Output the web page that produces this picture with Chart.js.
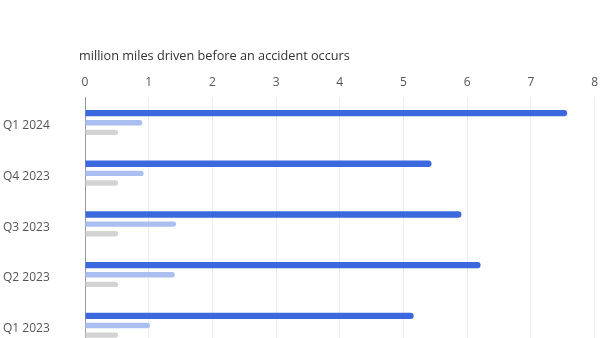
<!DOCTYPE html>
<html>
<head>
<meta charset="utf-8">
<script src="https://cdn.jsdelivr.net/npm/chart.js@4"></script>
<style>
    html, body { margin: 0; padding: 0; background: #fff; overflow: hidden; }
    #wrap { width: 600px; height: 361px; }
</style>
</head>
<body>
<div id="wrap"><canvas id="chart"></canvas></div>
<script>
// quarters, top to bottom
const quarters = ["Q1 2024", "Q4 2023", "Q3 2023", "Q2 2023", "Q1 2023"];
// million miles per accident
const withAutopilot = [7.57, 5.44, 5.91, 6.21, 5.16];
const withoutAutopilot = [0.90, 0.92, 1.43, 1.41, 1.02];
const usAverage = [0.52, 0.52, 0.52, 0.52, 0.52];
const xTicks = [0, 1, 2, 3, 4, 5, 6, 7, 8];
const axisCaption = "million miles driven before an accident occurs";

const fontFamily = "'Open Sans', Lato, sans-serif";

// caption above the top axis, starting a bit left of the plot
const captionPlugin = {
    id: "caption",
    afterDraw(chart) {
        const c = chart.ctx;
        c.save();
        c.font = "12.7px " + fontFamily;
        c.fillStyle = "#333";
        c.textBaseline = "middle";
        c.textAlign = "left";
        c.fillText(axisCaption, chart.chartArea.left - 6, 56);
        c.restore();
    }
};

document.addEventListener("DOMContentLoaded", function () {
    const ctx = document.getElementById("chart").getContext("2d");

    new Chart(ctx, {
        type: "bar",
        data: {
            labels: quarters,
            datasets: [
                { label: "Autopilot", data: withAutopilot, backgroundColor: "#3b69dd", barPercentage: 0.66 },
                { label: "No Autopilot", data: withoutAutopilot, backgroundColor: "#aabef0", barPercentage: 0.56 },
                { label: "US average", data: usAverage, backgroundColor: "#d3d3d3", barPercentage: 0.56 }
            ]
        },
        plugins: [captionPlugin],
        options: {
            indexAxis: "y",
            responsive: true,
            maintainAspectRatio: false,
            animation: false,
            layout: { padding: { top: 73, left: 3, right: 2, bottom: 3 } },
            datasets: {
                bar: { categoryPercentage: 0.57, borderRadius: 3 }
            },
            plugins: {
                legend: { display: false },
                tooltip: { enabled: false }
            },
            scales: {
                x: {
                    position: "top",
                    min: 0,
                    max: 8,
                    afterBuildTicks: function (scale) {
                        scale.ticks = xTicks.map(v => ({ value: v }));
                    },
                    grid: { color: "#ededed", drawTicks: true, tickLength: 6, tickColor: "rgba(0,0,0,0)" },
                    border: { display: false },
                    ticks: { color: "#555", padding: 2, font: { family: fontFamily, size: 12 } }
                },
                y: {
                    grid: { display: false },
                    border: { display: true, color: "#999", width: 1 },
                    afterFit: function (scale) { scale.width = 82; },
                    ticks: { color: "#555", crossAlign: "far", labelOffset: 3, font: { family: fontFamily, size: 12 } }
                }
            }
        }
    });
});
</script>
</body>
</html>
